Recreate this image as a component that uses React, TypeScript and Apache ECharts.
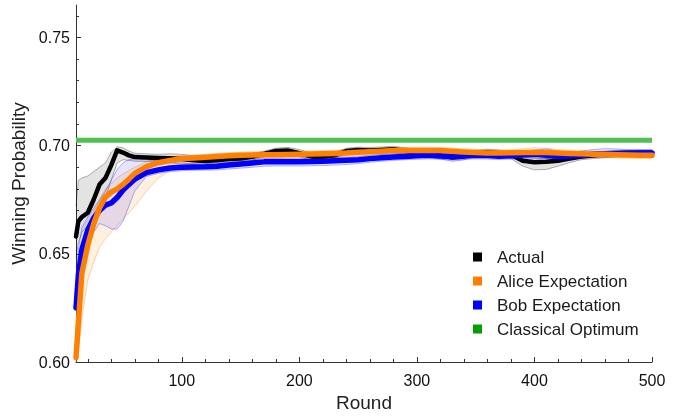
import React, { useEffect, useRef } from "react";
import * as echarts from "echarts";

const rounds = [10, 12, 15, 20, 25, 30, 35, 40, 45, 50, 55, 60, 70, 80, 90, 100, 110, 120, 130, 140, 150, 160, 170, 180, 190, 200, 210, 220, 230, 240, 250, 260, 270, 280, 290, 300, 310, 320, 330, 340, 350, 360, 370, 380, 390, 400, 410, 420, 430, 440, 450, 460, 470, 480, 490, 500];

const actual = [0.658, 0.665, 0.667, 0.669, 0.675, 0.682, 0.685, 0.691, 0.6978, 0.6968, 0.6955, 0.6947,
  0.6945, 0.6943, 0.6942, 0.6938, 0.6932, 0.6929, 0.6933, 0.6938, 0.694, 0.6948, 0.6962, 0.6975, 0.6978, 0.6965, 0.695, 0.6948, 0.6955, 0.6975, 0.698, 0.6978, 0.698, 0.6983, 0.6975, 0.6968, 0.6963, 0.6955, 0.6945, 0.695, 0.6965, 0.697, 0.6965, 0.6958, 0.693, 0.6923, 0.6925, 0.693, 0.694, 0.695, 0.6955, 0.696, 0.6965, 0.6967, 0.6967, 0.6967];
const actualHi = [0.672, 0.684, 0.685, 0.686, 0.688, 0.69, 0.692, 0.697, 0.6995, 0.699, 0.6975, 0.6965,
  0.6962, 0.696, 0.6962, 0.696, 0.6952, 0.695, 0.6952, 0.6955, 0.6957, 0.6963, 0.6975, 0.6988, 0.6992, 0.6982, 0.6966, 0.6962, 0.697, 0.6988, 0.6993, 0.6992, 0.6994, 0.6997, 0.699, 0.6983, 0.6978, 0.697, 0.696, 0.6965, 0.6978, 0.6984, 0.698, 0.6972, 0.695, 0.694, 0.694, 0.6945, 0.6955, 0.6965, 0.697, 0.6974, 0.6978, 0.698, 0.698, 0.698];
const actualLo = [0.648, 0.655, 0.66, 0.663, 0.666, 0.671, 0.676, 0.684, 0.692, 0.6935, 0.6932, 0.6928,
  0.6927, 0.6925, 0.6923, 0.692, 0.6913, 0.691, 0.6915, 0.692, 0.6922, 0.6932, 0.6948, 0.696, 0.6962, 0.6948, 0.6933, 0.6932, 0.694, 0.696, 0.6966, 0.6964, 0.6966, 0.6968, 0.696, 0.6952, 0.6946, 0.6938, 0.6928, 0.6934, 0.695, 0.6955, 0.695, 0.694, 0.6905, 0.6888, 0.689, 0.6905, 0.6922, 0.6935, 0.694, 0.6944, 0.695, 0.6953, 0.6953, 0.6953];

const alice = [0.602, 0.618, 0.641, 0.654, 0.6638, 0.6712, 0.6762, 0.6785, 0.68, 0.682, 0.6845, 0.6872,
  0.6903, 0.6921, 0.6931, 0.694, 0.6943, 0.6946, 0.695, 0.6953, 0.6955, 0.6957, 0.6958, 0.6958, 0.6959, 0.696, 0.6961, 0.6962, 0.6964, 0.6966, 0.697, 0.6972, 0.6974, 0.6977, 0.6978, 0.6978, 0.6978, 0.6977, 0.6974, 0.6971, 0.6968, 0.6966, 0.6966, 0.6967, 0.6968, 0.6968, 0.6968, 0.6966, 0.6964, 0.6962, 0.696, 0.696, 0.6958, 0.6957, 0.6956, 0.6955];
const aliceHi = [0.612, 0.632, 0.65, 0.662, 0.669, 0.675, 0.68, 0.6825, 0.685, 0.687, 0.6885, 0.69,
  0.6925, 0.694, 0.6948, 0.6955, 0.6957, 0.696, 0.6964, 0.6967, 0.6969, 0.6971, 0.6972, 0.6972, 0.6973, 0.6974, 0.6975, 0.6976, 0.6978, 0.698, 0.6984, 0.6986, 0.6988, 0.6991, 0.6992, 0.6992, 0.6992, 0.6991, 0.6988, 0.6985, 0.6982, 0.698, 0.698, 0.6981, 0.6985, 0.699, 0.6988, 0.6982, 0.6978, 0.6976, 0.6974, 0.6974, 0.6972, 0.6971, 0.697, 0.6969];
const aliceLo = [0.6, 0.605, 0.62, 0.638, 0.646, 0.653, 0.657, 0.66, 0.663, 0.666, 0.669, 0.672,
  0.679, 0.685, 0.6885, 0.6905, 0.6918, 0.6925, 0.6932, 0.6937, 0.694, 0.6942, 0.6943, 0.6943, 0.6944, 0.6945, 0.6946, 0.6947, 0.6949, 0.6951, 0.6955, 0.6957, 0.6959, 0.6962, 0.6963, 0.6963, 0.6963, 0.6962, 0.6959, 0.6956, 0.6953, 0.6951, 0.6951, 0.6952, 0.6953, 0.6953, 0.6953, 0.6951, 0.6949, 0.6947, 0.6945, 0.6945, 0.6943, 0.6942, 0.6941, 0.694];

const bob = [0.625, 0.64, 0.652, 0.661, 0.6665, 0.67, 0.6725, 0.6735, 0.676, 0.6795, 0.682, 0.6845,
  0.6875, 0.6888, 0.6897, 0.69, 0.6901, 0.6902, 0.6905, 0.691, 0.6915, 0.692, 0.6925, 0.6926, 0.6926, 0.6926, 0.6927, 0.6928, 0.693, 0.6932, 0.6935, 0.694, 0.6944, 0.6948, 0.695, 0.6953, 0.6955, 0.6952, 0.695, 0.6952, 0.6955, 0.6954, 0.6951, 0.6953, 0.6957, 0.696, 0.6955, 0.695, 0.6952, 0.6956, 0.696, 0.6962, 0.6964, 0.6965, 0.6966, 0.6966];
const bobHi = [0.64, 0.652, 0.662, 0.667, 0.671, 0.675, 0.679, 0.684, 0.689, 0.692, 0.6935, 0.694,
  0.6935, 0.693, 0.692, 0.6915, 0.6916, 0.6917, 0.692, 0.6925, 0.693, 0.6935, 0.694, 0.6941, 0.6941, 0.6941, 0.6942, 0.6943, 0.6945, 0.6947, 0.695, 0.6955, 0.6959, 0.6963, 0.6965, 0.6968, 0.697, 0.6967, 0.6965, 0.6967, 0.697, 0.6969, 0.6966, 0.6968, 0.6975, 0.698, 0.6985, 0.6975, 0.6968, 0.6975, 0.6982, 0.6986, 0.6985, 0.698, 0.6981, 0.6981];
const bobLo = [0.615, 0.63, 0.645, 0.655, 0.66, 0.664, 0.663, 0.6615, 0.6614, 0.665, 0.672, 0.679,
  0.6858, 0.6872, 0.688, 0.6884, 0.6886, 0.6887, 0.6888, 0.6892, 0.6896, 0.69, 0.6905, 0.6906, 0.6906, 0.6906, 0.6907, 0.6908, 0.691, 0.6913, 0.6917, 0.6923, 0.6928, 0.6932, 0.6935, 0.6937, 0.6939, 0.6937, 0.6935, 0.6937, 0.6939, 0.6938, 0.6936, 0.6938, 0.6941, 0.6944, 0.694, 0.6935, 0.6937, 0.6941, 0.6945, 0.6947, 0.6948, 0.6949, 0.695, 0.695];

const classicalOptimum = 0.7025;

const xMajorTicks = [100, 200, 300, 400, 500];
const xMinorTicks = [20, 40, 60, 80, 120, 140, 160, 180, 220, 240, 260, 280, 320, 340, 360, 380, 420, 440, 460, 480];
const yMajorTicks = [0.6, 0.65, 0.7, 0.75];
const yMinorTicks = [0.61, 0.62, 0.63, 0.64, 0.66, 0.67, 0.68, 0.69, 0.71, 0.72, 0.73, 0.74, 0.76];

const FONT = "'Liberation Sans', Arial, sans-serif";
const X_MIN = 10, X_MAX = 500, Y_MIN = 0.6, Y_MAX = 0.765;

const pairs = (ys: number[]) => rounds.map((r, i) => [r, ys[i]]);

function band(key: string, lo: number[], hi: number[], fill: string, edge: string) {
  return {
    type: "custom", name: key, silent: true, z: 1,
    data: rounds.map((r, i) => [r, lo[i], hi[i]]),
    encode: { x: 0, y: [1, 2] },
    renderItem: (params: any, api: any) => {
      if (params.dataIndex !== 0) return null;
      const upper = rounds.map((r, i) => api.coord([r, hi[i]]));
      const lower = rounds.map((r, i) => api.coord([r, lo[i]]));
      return {
        type: "group",
        children: [
          { type: "polygon", shape: { points: upper.concat(lower.slice().reverse()) }, style: { fill, stroke: null } },
          { type: "polyline", shape: { points: upper }, style: { stroke: edge, lineWidth: 1, fill: null } },
          { type: "polyline", shape: { points: lower }, style: { stroke: edge, lineWidth: 1, fill: null } },
        ],
      };
    },
  };
}

function mainLine(name: string, ys: number[], color: string, width: number, z: number) {
  return {
    type: "line", name, data: pairs(ys), symbol: "none", showSymbol: false, z,
    emphasis: { disabled: true },
    itemStyle: { color },
    lineStyle: { width, color, join: "round", cap: "round" },
  };
}

export default function App() {
  const ref = useRef<HTMLDivElement>(null);
  useEffect(() => {
    if (!ref.current) return;
    const chart = echarts.init(ref.current, undefined, { renderer: "svg" });
    const axisColor = "#333";
    chart.setOption({
      animation: false,
      textStyle: { fontFamily: FONT },
      grid: { left: 76, right: 36, top: 5, bottom: 54, containLabel: false, outerBoundsMode: "none" },
      xAxis: [
        {
          type: "value", min: X_MIN, max: X_MAX, position: "bottom",
          name: "Round", nameLocation: "middle", nameGap: 23,
          nameTextStyle: { fontSize: 19, color: "#222", fontFamily: FONT },
          axisLine: { show: true, lineStyle: { color: axisColor, width: 1 } },
          axisTick: { show: true, inside: true, length: 5, customValues: xMajorTicks, lineStyle: { color: axisColor } },
          axisLabel: { customValues: xMajorTicks, fontSize: 16, color: "#111", margin: 10, fontFamily: FONT },
          splitLine: { show: false },
        },
        {
          type: "value", min: X_MIN, max: X_MAX, position: "bottom",
          axisLine: { show: false },
          axisTick: { show: true, inside: true, length: 3, customValues: xMinorTicks, lineStyle: { color: axisColor } },
          axisLabel: { show: false },
          splitLine: { show: false },
        },
      ],
      yAxis: [
        {
          type: "value", min: Y_MIN, max: Y_MAX, position: "left",
          name: "Winning Probability", nameLocation: "middle", nameGap: 39,
          nameTextStyle: { fontSize: 19, color: "#222", fontFamily: FONT },
          axisLine: { show: true, lineStyle: { color: axisColor, width: 1 } },
          axisTick: { show: true, inside: true, length: 5, customValues: yMajorTicks, lineStyle: { color: axisColor } },
          axisLabel: {
            customValues: yMajorTicks, fontSize: 16, color: "#111", margin: 6, fontFamily: FONT,
            formatter: (v: number) => v.toFixed(2),
          },
          splitLine: { show: false },
        },
        {
          type: "value", min: Y_MIN, max: Y_MAX, position: "left",
          axisLine: { show: false },
          axisTick: { show: true, inside: true, length: 3, customValues: yMinorTicks, lineStyle: { color: axisColor } },
          axisLabel: { show: false },
          splitLine: { show: false },
        },
      ],
      legend: {
        data: ["Actual", "Alice Expectation", "Bob Expectation", "Classical Optimum"],
        orient: "vertical", left: 468, top: 242,
        icon: "rect", itemWidth: 9, itemHeight: 9, itemGap: 4,
        itemStyle: { borderWidth: 0 },
        textStyle: { fontSize: 17, color: "#1a1a1a", fontFamily: FONT, lineHeight: 20, padding: [0, 0, 0, 10] },
        selectedMode: false,
      },
      series: [
        band("actualBand", actualLo, actualHi, "rgba(0,0,0,0.11)", "rgba(0,0,0,0.3)"),
        band("aliceBand", aliceLo, aliceHi, "rgba(255,128,0,0.12)", "rgba(255,128,0,0.35)"),
        band("bobBand", bobLo, bobHi, "rgba(0,0,255,0.1)", "rgba(0,0,255,0.3)"),
        mainLine("Actual", actual, "#000000", 4.5, 3),
        mainLine("Bob Expectation", bob, "#0000FF", 5.5, 4),
        mainLine("Alice Expectation", alice, "#FF8000", 5.5, 5),
        {
          type: "line", name: "Classical Optimum", z: 6, symbol: "none", showSymbol: false,
          emphasis: { disabled: true },
          data: [[X_MIN, classicalOptimum], [X_MAX, classicalOptimum]],
          itemStyle: { color: "#00A000" },
          lineStyle: { width: 5, color: "#50C050" },
        },
      ],
    });
    return () => chart.dispose();
  }, []);
  return <div ref={ref} style={{ position: "fixed", left: 0, top: 0, width: 688, height: 416 }} />;
}
